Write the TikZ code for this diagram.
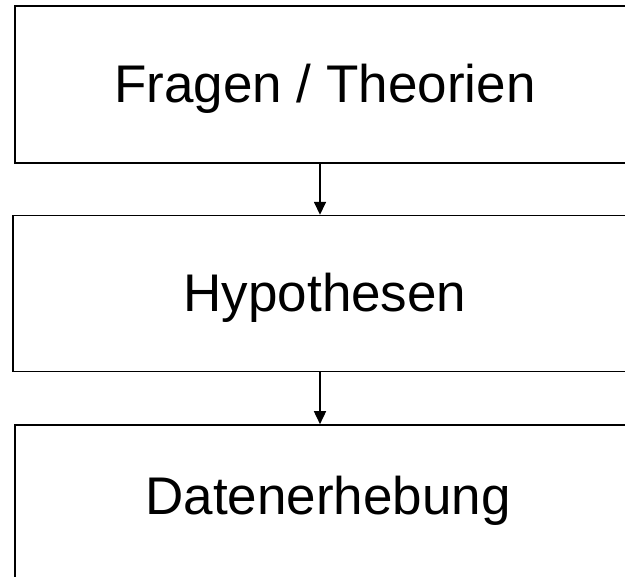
\documentclass[tikz,border=0pt]{standalone}
\usepackage{fontspec}
\setmainfont{Liberation Sans}
\usetikzlibrary{arrows.meta}
\begin{document}
\begin{tikzpicture}[x=1pt,y=-1pt,
  boxstyle/.style={draw=black, line width=1.6pt, rectangle, inner sep=0pt},
  labelstyle/.style={font=\fontsize{53}{60}\selectfont, anchor=base, inner sep=0pt},
  arr/.style={line width=1.6pt, -{Triangle[length=13pt,width=12pt]}}]
\useasboundingbox (0,0) rectangle (625,577);
\clip (0,0) rectangle (625,577);
\node[boxstyle, minimum width=620pt, minimum height=157pt] (b1) at (325,84.5) {};
\node[boxstyle, minimum width=622pt, minimum height=156pt] (b2) at (324,293.6) {};
\node[boxstyle, minimum width=620pt, minimum height=157pt] (b3) at (325,503.5) {};
\node[labelstyle] (t1) at (325,103) {Fragen / Theorien};
\node[labelstyle] (t2) at (325,312) {Hypothesen};
\node[labelstyle] (t3) at (328,515) {Datenerhebung};
\coordinate (ax) at (320,0);
\draw[arr] (b1.south -| ax) -- (b2.north -| ax);
\draw[arr] (b2.south -| ax) -- (b3.north -| ax);
\end{tikzpicture}
\end{document}
